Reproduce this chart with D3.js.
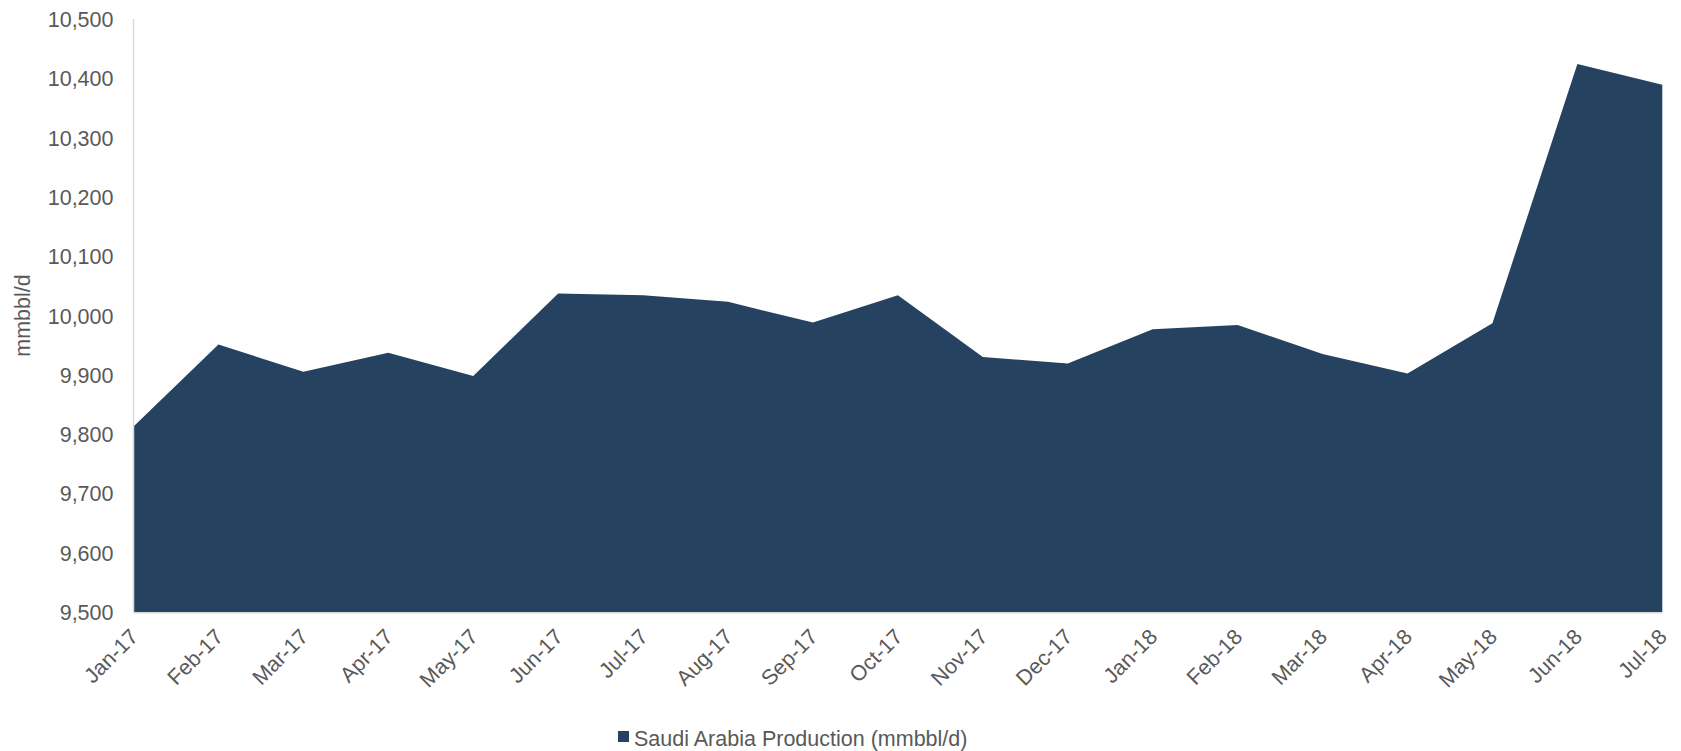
<!DOCTYPE html>
<html>
<head>
<meta charset="utf-8">
<script src="https://cdn.jsdelivr.net/npm/d3@7"></script>
<style>
  html, body { margin: 0; padding: 0; background: #ffffff; }
  svg { display: block; font-family: "Liberation Sans", Arial, sans-serif; }
</style>
</head>
<body>
<svg id="chart" width="1681" height="751"></svg>
<script>
// Monthly Saudi Arabia crude production, thousand barrels per day
const months = ["Jan-17","Feb-17","Mar-17","Apr-17","May-17","Jun-17","Jul-17","Aug-17","Sep-17",
                "Oct-17","Nov-17","Dec-17","Jan-18","Feb-18","Mar-18","Apr-18","May-18","Jun-18","Jul-18"];
const production = [9813, 9951, 9905, 9937, 9898, 10037, 10034, 10023, 9988,
                     10034, 9930, 9919, 9977, 9984, 9935, 9902, 9987, 10424, 10389];
const yTicks = [9500, 9600, 9700, 9800, 9900, 10000, 10100, 10200, 10300, 10400, 10500];
const seriesName = "Saudi Arabia Production (mmbbl/d)";
const yTitle = "mmbbl/d";

const fill = "#264261";
const textColor = "#595959";
const axisColor = "#d9d9d9";
const fontSize = 21.5;

const svg = d3.select("#chart");
const plot = { left: 133.5, right: 1662.3, top: 19, bottom: 612 };

const x = d3.scalePoint().domain(months).range([plot.left, plot.right]);
const y = d3.scaleLinear().domain([9500, 10500]).range([plot.bottom, plot.top]);

// Filled area from the axis floor up to each monthly value
const area = d3.area()
  .x((d, i) => x(months[i]))
  .y0(y(9500))
  .y1(d => y(d));

svg.append("path")
  .datum(production)
  .attr("d", area)
  .attr("fill", fill);

// Axis lines
svg.append("line")
  .attr("x1", plot.left).attr("x2", plot.left)
  .attr("y1", plot.top).attr("y2", plot.bottom)
  .attr("stroke", axisColor).attr("stroke-width", 1.5);
svg.append("line")
  .attr("x1", plot.left).attr("x2", plot.right)
  .attr("y1", plot.bottom + 0.75).attr("y2", plot.bottom + 0.75)
  .attr("stroke", axisColor).attr("stroke-width", 1.5);

// Y axis labels
const yAxis = d3.axisLeft(y)
  .tickValues(yTicks)
  .tickFormat(d3.format(","))
  .tickSize(0)
  .tickPadding(20);
const gy = svg.append("g")
  .attr("transform", `translate(${plot.left},0)`)
  .call(yAxis);
gy.select(".domain").remove();
gy.selectAll("text")
  .attr("fill", textColor)
  .style("font-size", fontSize + "px")
  .attr("dy", "0.35em");

// X axis labels, rotated
const xAxis = d3.axisBottom(x).tickSize(0).tickPadding(0);
const gx = svg.append("g")
  .attr("transform", `translate(0,${plot.bottom})`)
  .call(xAxis);
gx.select(".domain").remove();
gx.selectAll("text")
  .attr("fill", textColor)
  .style("font-size", fontSize + "px")
  .style("text-anchor", "end")
  .attr("dy", 0)
  .attr("y", 0)
  .attr("transform", "translate(5.5,26) rotate(-45)");

// Y axis title
svg.append("text")
  .attr("transform", `translate(30,${(plot.top + plot.bottom) / 2}) rotate(-90)`)
  .attr("text-anchor", "middle")
  .attr("fill", textColor)
  .style("font-size", fontSize + "px")
  .text(yTitle);

// Legend
const legend = svg.append("g").attr("transform", "translate(618,731)");
legend.append("rect")
  .attr("width", 11).attr("height", 11)
  .attr("fill", fill);
legend.append("text")
  .attr("x", 16).attr("y", 15)
  .attr("fill", textColor)
  .style("font-size", fontSize + "px")
  .text(seriesName);
</script>
</body>
</html>
